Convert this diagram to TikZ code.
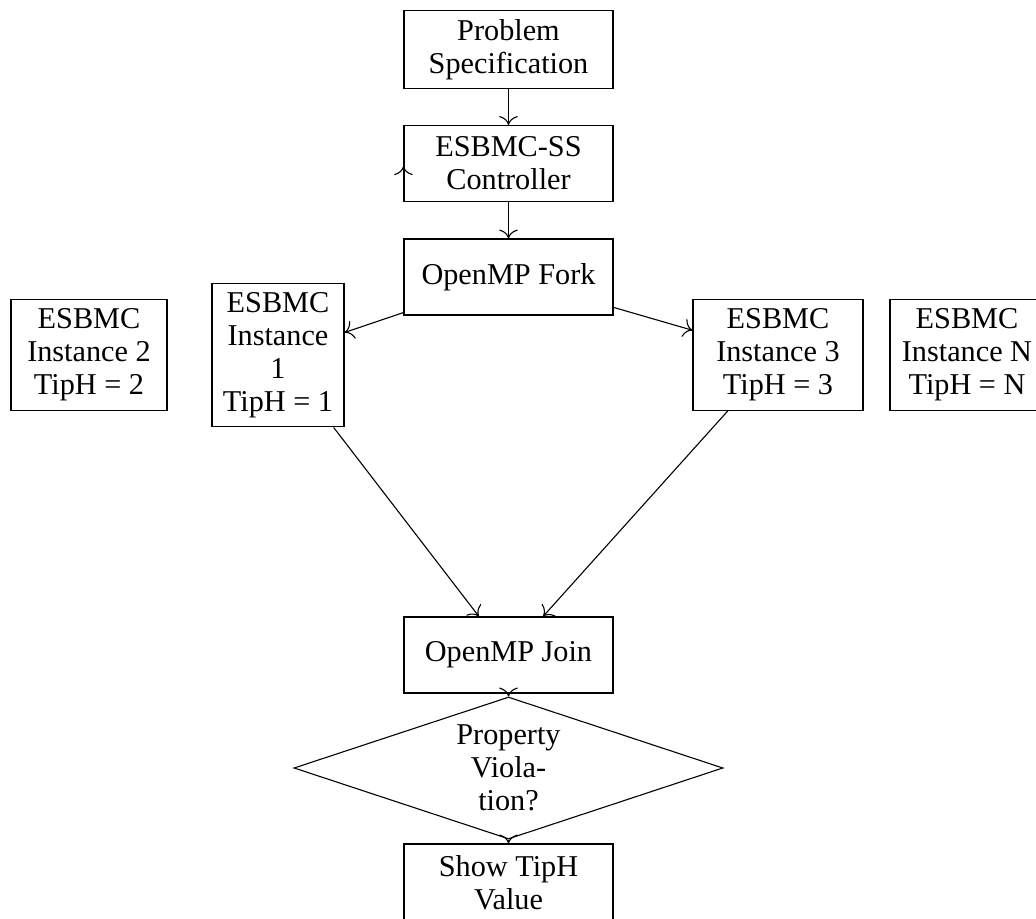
\documentclass[tikz,border=0pt]{standalone}
\usepackage{fontspec}
\setmainfont{Liberation Serif}
\usetikzlibrary{shapes.geometric,arrows.meta}
\newcommand{\mypx}{0.363636pt}
\tikzset{
  every node/.style={font=\fontsize{11}{12}\selectfont},
  block/.style={draw, rectangle, align=center, minimum width=209*\mypx, minimum height=76*\mypx},
  inst/.style={draw, rectangle, align=center},
  decision/.style={draw, diamond, align=center, inner sep=0pt, aspect=2.8, minimum width=429*\mypx, minimum height=142*\mypx},
  line/.style={draw, -{To[scale=1.3]}}
}
\begin{document}
\begin{tikzpicture}[x=0.363636pt, y=-0.363636pt]
\useasboundingbox (0,0) rectangle (1036,919);
\node[block] (prob) at (508.5,49.5) {Problem\\Specification};
\node[block] (ctrl) at (508.5,163.5) {ESBMC-SS\\Controller};
\node[block] (fork) at (508.5,277) {OpenMP Fork};
\node[inst, minimum width=132*\mypx] (inst1) at (278,355) {ESBMC\\Instance\\1\\TipH = 1};
\node[inst, minimum width=156*\mypx] (inst2) at (89,355) {ESBMC\\Instance 2\\TipH = 2};
\node[inst, minimum width=170*\mypx] (inst3) at (778,355) {ESBMC\\Instance 3\\TipH = 3};
\node[inst, minimum width=154*\mypx] (instN) at (967,355) {ESBMC\\Instance N\\TipH = N};
\node[block] (join) at (508.5,655) {OpenMP Join};
\node[decision] (dec) at (508.5,768) {Property\\Viola-\\tion?};
\node[block, minimum height=78*\mypx] (show) at (508.5,883) {Show TipH\\Value};
\draw[line] (prob) -- (ctrl);
\draw[line] (ctrl) -- (fork);
\draw[line] (fork) -- (inst1);
\draw[line] (fork) -- (inst3);
\draw[line] (inst1) -- (join);
\draw[line] (inst3) -- (join);
\draw[line] (join) -- (dec);
\draw[line] (dec) -- (show);
\draw[line] ([yshift=-2pt]ctrl.west) -- ([yshift=-1pt]ctrl.west);
\end{tikzpicture}
\end{document}
